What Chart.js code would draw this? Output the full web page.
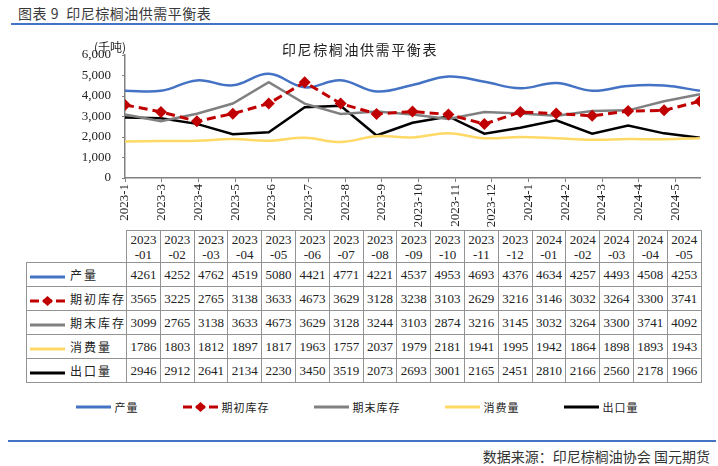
<!DOCTYPE html>
<html>
<head>
<meta charset="utf-8">
<script src="https://cdn.jsdelivr.net/npm/chart.js@4/dist/chart.umd.min.js"></script>
<style>
  body { margin: 0; width: 718px; height: 466px; background: #fff; position: relative; overflow: hidden; font-family: "Noto Sans CJK SC", sans-serif; }
  #head { position: absolute; left: 18px; top: 3px; font-size: 14px; color: #3a3a3a; letter-spacing: 0.5px; }
  #rule1 { position: absolute; left: 11px; right: 0; top: 23px; height: 2px; background: #4472C4; }
  #chartWrap { position: absolute; left: 0; top: 30px; width: 718px; height: 200px; }
  #title { position: absolute; left: 282px; top: 39px; font-size: 14px; letter-spacing: 1.6px; color: #222; }
  #unit { position: absolute; left: 94px; top: 38px; font-size: 12px; color: #222; }
  #tbl { position: absolute; left: 26px; top: 230px; width: 675px; border-collapse: collapse; table-layout: fixed; font-family: "Liberation Serif", serif; font-size: 13px; color: #222; }
  #tbl td { border: 1px solid #939393; text-align: center; padding: 0; height: 23px; overflow: hidden; }
  #tbl tr.hd td { height: 31px; line-height: 15px; }
  #tbl td.blank { border: none; }
  #tbl td.lab { text-align: left; font-family: "Noto Sans CJK SC", sans-serif; font-size: 12px; letter-spacing: 2px; white-space: nowrap; }
  .sw { display: inline-block; width: 35px; height: 10px; vertical-align: middle; margin: 0 5px 0 3px; }
  #legend { position: absolute; left: 0; width: 714px; top: 399px; display: flex; justify-content: center; gap: 44px; font-size: 11px; letter-spacing: 1px; color: #222; }
  #legend .it { display: flex; align-items: center; }
  #legend .sw { margin: 0 4px 0 0; }
  #rule2 { position: absolute; left: 8px; right: 2px; top: 440px; height: 2px; background: #4472C4; }
  #src { position: absolute; right: 8px; top: 446px; font-size: 14px; color: #333; }
</style>
</head>
<body>
<div id="head">图表 9&nbsp; 印尼棕榈油供需平衡表</div>
<div id="rule1"></div>
<div id="chartWrap"><canvas id="c" width="718" height="200"></canvas></div>
<div id="title">印尼棕榈油供需平衡表</div>
<div id="unit">(千吨)</div>
<table id="tbl"></table>
<div id="legend"></div>
<div id="rule2"></div>
<div id="src">数据来源：印尼棕榈油协会 国元期货</div>
<script>
const months = ['2023-01','2023-02','2023-03','2023-04','2023-05','2023-06','2023-07','2023-08','2023-09',
  '2023-10','2023-11','2023-12','2024-01','2024-02','2024-03','2024-04','2024-05'];
const tickLabels = ['2023-1','2023-3','2023-4','2023-5','2023-6','2023-7','2023-8','2023-9','2023-10',
  '2023-11','2023-12','2024-1','2024-2','2024-3','2024-4','2024-5'];

const production = [4261,4252,4762,4519,5080,4421,4771,4221,4537,4953,4693,4376,4634,4257,4493,4508,4253];
const openingStock = [3565,3225,2765,3138,3633,4673,3629,3128,3238,3103,2629,3216,3146,3032,3264,3300,3741];
const closingStock = [3099,2765,3138,3633,4673,3629,3128,3244,3103,2874,3216,3145,3032,3264,3300,3741,4092];
const consumption = [1786,1803,1812,1897,1817,1963,1757,2037,1979,2181,1941,1995,1942,1864,1898,1893,1943];
const exportsQty = [2946,2912,2641,2134,2230,3450,3519,2073,2693,3001,2165,2451,2810,2166,2560,2178,1966];

const seriesNames = ['产量','期初库存','期末库存','消费量','出口量'];
const seriesData = [production, openingStock, closingStock, consumption, exportsQty];
const seriesColors = ['#4472C4','#C00000','#808080','#FFD966','#000000'];

// the excel axis puts its 16 tick labels a little wider apart than the 17 points
const tickStep = 16 / 15.67;

const toPts = arr => arr.map((v, i) => ({ x: i, y: v }));

const datasets = [
  { label: seriesNames[0], data: toPts(production), borderColor: seriesColors[0], borderWidth: 2.5, tension: 0.4, pointRadius: 0 },
  { label: seriesNames[1], data: toPts(openingStock), borderColor: seriesColors[1], backgroundColor: seriesColors[1], borderWidth: 3,
    borderDash: [9, 5], tension: 0, pointStyle: 'rectRot', pointRadius: 6, pointBorderWidth: 0 },
  { label: seriesNames[2], data: toPts(closingStock), borderColor: seriesColors[2], borderWidth: 2.5, tension: 0, pointRadius: 0 },
  { label: seriesNames[3], data: toPts(consumption), borderColor: seriesColors[3], borderWidth: 2.5, tension: 0.4, pointRadius: 0 },
  { label: seriesNames[4], data: toPts(exportsQty), borderColor: seriesColors[4], borderWidth: 2.5, tension: 0, pointRadius: 0 }
];
// keep red dashed above the others
datasets[1].order = -1;

new Chart(document.getElementById('c'), {
  type: 'line',
  data: { datasets },
  options: {
    responsive: false,
    animation: false,
    layout: { padding: { top: 25, right: 18, left: 0, bottom: 0 } },
    plugins: { legend: { display: false }, tooltip: { enabled: false } },
    scales: {
      x: {
        type: 'linear', min: 0, max: 16,
        afterBuildTicks: axis => { axis.ticks = tickLabels.map((_, j) => ({ value: j * tickStep })); },
        afterFit: axis => { axis.height = 52; },
        border: { color: '#808080', width: 1.5 },
        grid: { drawOnChartArea: false, tickLength: 4, color: '#808080' },
        ticks: {
          autoSkip: false, maxRotation: 90, minRotation: 90, padding: 2,
          color: '#222', font: { family: 'Liberation Serif', size: 13 },
          callback: (v, i) => tickLabels[i]
        }
      },
      y: {
        min: 0, max: 6000,
        afterFit: axis => { axis.width = 125; },
        border: { color: '#808080', width: 1.5 },
        grid: { drawOnChartArea: false, tickLength: 3, color: '#808080' },
        ticks: {
          stepSize: 1000, padding: 11, color: '#222',
          font: { family: 'Liberation Serif', size: 13 },
          callback: v => v.toLocaleString('en-US')
        }
      }
    }
  }
});

// swatch drawings for the table and the legend
function swatch(i) {
  const c = seriesColors[i];
  if (i === 1) {
    return '<svg class="sw" viewBox="0 0 35 10"><line x1="0" y1="5" x2="35" y2="5" stroke="' + c +
      '" stroke-width="3" stroke-dasharray="9,4"/><polygon points="17.5,0 23,5 17.5,10 12,5" fill="' + c + '"/></svg>';
  }
  return '<svg class="sw" viewBox="0 0 35 10"><line x1="0" y1="5" x2="35" y2="5" stroke="' + c + '" stroke-width="3"/></svg>';
}

const tbl = document.getElementById('tbl');
let html = '<colgroup><col style="width:100px">' + months.map(() => '<col style="width:33.8px">').join('') + '</colgroup>';
html += '<tr class="hd"><td class="blank"></td>' + months.map(m => {
  const p = m.split('-');
  return '<td>' + p[0] + '<br>-' + p[1] + '</td>';
}).join('') + '</tr>';
seriesData.forEach((arr, i) => {
  html += '<tr><td class="lab">' + swatch(i) + seriesNames[i] + '</td>' + arr.map(v => '<td>' + v + '</td>').join('') + '</tr>';
});
tbl.innerHTML = html;

document.getElementById('legend').innerHTML = seriesNames.map((n, i) =>
  '<div class="it">' + swatch(i) + '<span>' + n + '</span></div>').join('');
</script>
</body>
</html>
